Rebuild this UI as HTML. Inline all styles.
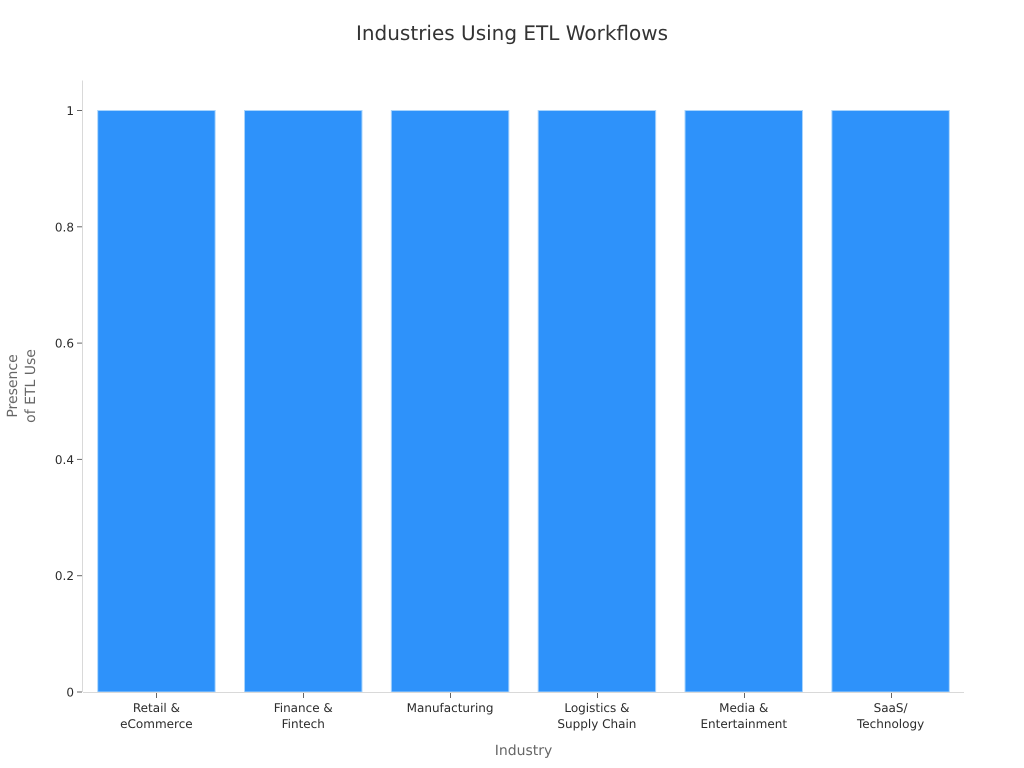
<!DOCTYPE html>
<html>
<head>
<meta charset="utf-8">
<style>
html,body{margin:0;padding:0;background:#fff;}
svg{display:block;}
text{font-family:"DejaVu Sans",sans-serif;text-rendering:geometricPrecision;}
</style>
</head>
<body>
<svg id="chart" width="1024" height="768" viewBox="0 0 1024 768" xmlns="http://www.w3.org/2000/svg">
<rect width="1024" height="768" fill="#ffffff"/>
<text x="512" y="40" text-anchor="middle" font-size="20" fill="#333333">Industries Using ETL Workflows</text>
<g id="marks"></g>
<g id="axes"></g>
<text x="523.5" y="755" text-anchor="middle" font-size="14" fill="#666666">Industry</text>
<text transform="translate(17,386) rotate(-90)" text-anchor="middle" font-size="14" fill="#666666">Presence</text>
<text transform="translate(35,386) rotate(-90)" text-anchor="middle" font-size="14" fill="#666666">of ETL Use</text>
</svg>
<script>
const categories = [["Retail &","eCommerce"],["Finance &","Fintech"],["Manufacturing"],["Logistics &","Supply Chain"],["Media &","Entertainment"],["SaaS/","Technology"]];
const seriesValues = [1,1,1,1,1,1];
const yTicks = [0,0.2,0.4,0.6,0.8,1];

const NS='http://www.w3.org/2000/svg';
const plot={left:83,right:964,top:80.5,bottom:692,y1:110.5};
const band=(plot.right-plot.left)/categories.length;
const barWidth=band*0.8;
function xScale(i){return plot.left+band*(i+0.5);}
function yScale(v){return plot.bottom-v*(plot.bottom-plot.y1);}
function mk(tag,attrs,parent){
  const e=document.createElementNS(NS,tag);
  for(const k in attrs)e.setAttribute(k,attrs[k]);
  parent.appendChild(e);
  return e;
}
const marks=document.getElementById('marks');
const axes=document.getElementById('axes');

seriesValues.forEach(function(v,i){
  const r=mk('rect',{x:xScale(i)-barWidth/2,y:yScale(v),width:barWidth,height:plot.bottom-yScale(v),fill:'#2e92fa',stroke:'#a8d4fc','stroke-width':1},marks);
  
  
});

const yLine=mk('line',{x1:82.5,x2:82.5,y1:plot.top,y2:plot.bottom,stroke:'#d9d9d9','stroke-width':1},axes);


const xLine=mk('line',{x1:plot.left,x2:plot.right,y1:692.5,y2:692.5,stroke:'#d9d9d9','stroke-width':1},axes);



yTicks.forEach(function(t){
  const y=yScale(t);
  const l=mk('line',{x1:77,x2:82,y1:y,y2:y,stroke:'#666666','stroke-width':1},axes);
  
  
  const s=mk('text',{x:74,y:y+4.5,'text-anchor':'end','font-size':12,fill:'#2b2b2b'},axes);
  s.textContent=String(t);
  
  
});

categories.forEach(function(lines,i){
  const x=Math.round(xScale(i))+0.5;
  const l=mk('line',{x1:x,x2:x,y1:693,y2:698,stroke:'#666666','stroke-width':1},axes);
  
  
  lines.forEach(function(txt,j){
    const s=mk('text',{x:xScale(i),y:712+16*j,'text-anchor':'middle','font-size':12,fill:'#2b2b2b'},axes);
    s.textContent=txt;
    
    
  });
});
</script>
</body>
</html>
